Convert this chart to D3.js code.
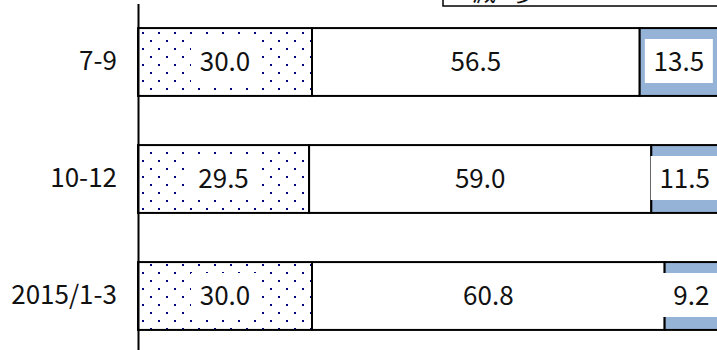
<!DOCTYPE html>
<html>
<head>
<meta charset="utf-8">
<script src="https://cdn.jsdelivr.net/npm/d3@7"></script>
<style>
  body { margin: 0; background: #fff; }
  svg { display: block; }
  text { font-family: "Noto Sans CJK JP", sans-serif; fill: #111; }
</style>
</head>
<body>
<svg width="717" height="350"></svg>
<script>
// values (percent shares per period)
var categories = ["7-9", "10-12", "2015/1-3"];
var upShare    = [30.0, 29.5, 30.0];
var flatShare  = [56.5, 59.0, 60.8];
var downShare  = [13.5, 11.5, 9.2];
var legendLabels = ["減少"];

var drawChart = function() {
    let svg = d3.select("svg");

    let x = d3.scaleLinear()
        .domain([0, 100])
        .range([138, 718]);

    let y = d3.scaleBand()
        .domain(categories)
        .range([3.5, 354.5])
        .paddingInner(0.42)
        .paddingOuter(0.21);

    // dotted fill like the spreadsheet pattern
    let defs = svg.append("defs");
    let pat = defs.append("pattern")
        .attr("id", "dots")
        .attr("patternUnits", "userSpaceOnUse")
        .attr("width", 16)
        .attr("height", 16)
        .attr("x", 142)
        .attr("y", 32);
    pat.append("rect").attr("width", 16).attr("height", 16).attr("fill", "#fff");
    pat.append("rect").attr("x", 0).attr("y", 0).attr("width", 2).attr("height", 2).attr("fill", "#000080");
    pat.append("rect").attr("x", 8).attr("y", 8).attr("width", 2).attr("height", 2).attr("fill", "#000080");

    // one row per period, three stacked segments
    let rows = categories.map(function(c, i) {
        let parts = [
            {key: "up",   value: upShare[i]},
            {key: "flat", value: flatShare[i]},
            {key: "down", value: downShare[i]}
        ];
        let acc = 0;
        parts.forEach(function(p) { p.x0 = acc; acc += p.value; p.x1 = acc; p.cat = c; });
        return parts;
    });
    let segs = rows.flat();

    let fills = {up: "url(#dots)", flat: "#fff", down: "#95B3D7"};

    let plot = svg.append("g").attr("id", "plot");

    plot.selectAll("rect.seg")
        .data(segs)
        .enter().append("rect")
        .attr("class", "seg")
        .attr("x", function(d) { return x(d.x0); })
        .attr("y", function(d) { return y(d.cat); })
        .attr("width", function(d) { return x(d.x1) - x(d.x0); })
        .attr("height", y.bandwidth())
        .attr("fill", function(d) { return fills[d.key]; })
        .attr("stroke", "#000")
        .attr("stroke-width", 2);

    // white boxes behind every data label
    plot.selectAll("rect.lblbox")
        .data(segs)
        .enter().append("rect")
        .attr("class", "lblbox")
        .attr("x", function(d) { return (x(d.x0) + x(d.x1)) / 2 - 34; })
        .attr("y", function(d) { return y(d.cat) + y.bandwidth() / 2 - 23; })
        .attr("width", 68)
        .attr("height", 44)
        .attr("fill", "#fff");

    plot.selectAll("text.val")
        .data(segs)
        .enter().append("text")
        .attr("class", "val")
        .attr("x", function(d) { return (x(d.x0) + x(d.x1)) / 2; })
        .attr("y", function(d) { return y(d.cat) + y.bandwidth() / 2; })
        .attr("dy", "0.36em")
        .attr("text-anchor", "middle")
        .style("font-size", "26px")
        .text(function(d) { return d.value.toFixed(1); });

    // category axis
    let yAxis = d3.axisLeft(y).tickSize(0).tickSizeOuter(0).tickPadding(21);
    let yGroup = plot.append("g").attr("id", "y-axis")
        .attr("transform", "translate(" + x(0) + ",0)")
        .call(yAxis);
    yGroup.select(".domain").attr("stroke", "#000").attr("stroke-width", 2);
    yGroup.selectAll(".tick text")
        .style("font-size", "26px")
        .attr("fill", "#111")
        .style("font-family", "\"Noto Sans CJK JP\", sans-serif");

    // legend box, mostly cut off at the top edge
    let legend = svg.append("g").attr("id", "legend");
    legend.append("rect")
        .attr("x", 443).attr("y", -40)
        .attr("width", 300).attr("height", 46)
        .attr("fill", "#fff").attr("stroke", "#000").attr("stroke-width", 1.5);
    legend.selectAll("text")
        .data(legendLabels)
        .enter().append("text")
        .attr("x", function(d, i) { return 472 + i * 110; })
        .attr("y", 1)
        .style("font-size", "24px")
        .style("letter-spacing", "18px")
        .text(function(d) { return d; });
};

drawChart();
</script>
</body>
</html>
